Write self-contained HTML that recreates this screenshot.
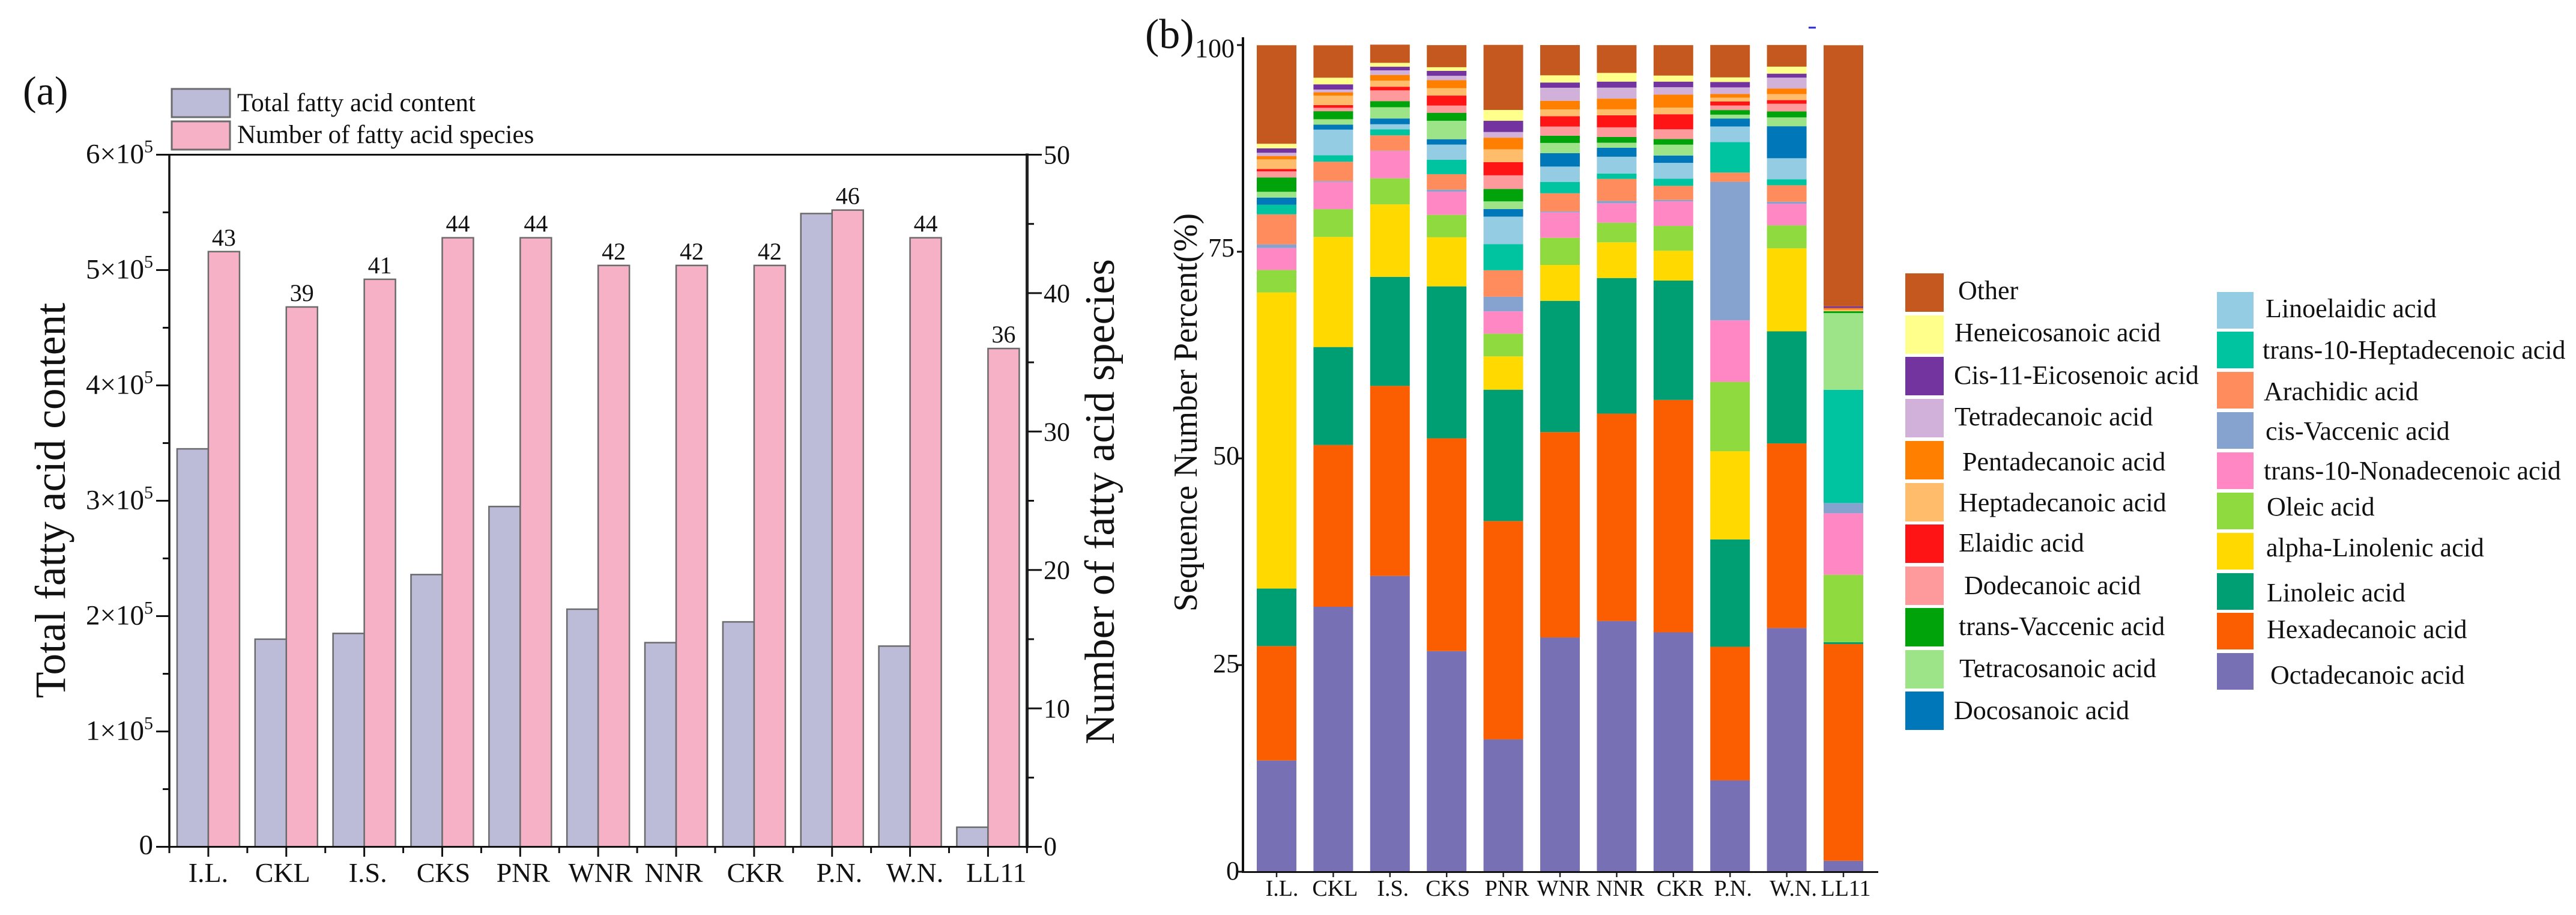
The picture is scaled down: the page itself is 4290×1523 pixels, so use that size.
<!DOCTYPE html>
<html lang="en">
<head>
<meta charset="utf-8">
<title>Fatty acid content and composition</title>
<style>
html,body{margin:0;padding:0;background:#fff;width:4290px;height:1523px;overflow:hidden}
svg{display:block}
text{font-family:"Liberation Serif",serif;fill:#111}
</style>
</head>
<body>
<svg id="figure" xmlns="http://www.w3.org/2000/svg" width="4290" height="1523" viewBox="0 0 4290 1523">
  <rect x="0" y="0" width="4290" height="1523" fill="#ffffff"/>

  <g id="panelA">
    <text x="38" y="174" font-size="68">(a)</text>
    <rect x="286" y="148" width="97" height="47" fill="#bcbcd9" stroke="#6b6b6b" stroke-width="3"/>
    <text x="395" y="185" font-size="43">Total fatty acid content</text>
    <rect x="286" y="202" width="97" height="47" fill="#f6b1c6" stroke="#6b6b6b" stroke-width="3"/>
    <text x="395" y="238" font-size="43">Number of fatty acid species</text>
    <text transform="translate(108,1162) rotate(-90)" font-size="72" textLength="658" lengthAdjust="spacingAndGlyphs">Total fatty acid content</text>
    <text transform="translate(1855,1239) rotate(-90)" font-size="70" textLength="808" lengthAdjust="spacingAndGlyphs">Number of fatty acid species</text>
  </g>

  <g id="panelB">
    <text x="1907" y="80" font-size="70">(b)</text>
    <text transform="translate(1993,1018) rotate(-90)" font-size="56" textLength="663" lengthAdjust="spacingAndGlyphs">Sequence Number Percent(%)</text>
    <rect x="3012" y="44.5" width="12" height="3" fill="#2a2ad0"/>
  </g>

  <g id="legendB" font-size="44">
    <rect x="3173" y="455" width="64" height="64" fill="#c4581e"/>
    <text x="3261" y="498">Other</text>
    <rect x="3173" y="525" width="64" height="64" fill="#ffff8c"/>
    <text x="3255" y="568">Heneicosanoic acid</text>
    <rect x="3173" y="594" width="64" height="64" fill="#7434a0"/>
    <text x="3254" y="639">Cis-11-Eicosenoic acid</text>
    <rect x="3173" y="664" width="64" height="64" fill="#d1b1d9"/>
    <text x="3255" y="708">Tetradecanoic acid</text>
    <rect x="3173" y="734" width="64" height="64" fill="#ff8000"/>
    <text x="3268" y="783">Pentadecanoic acid</text>
    <rect x="3173" y="804" width="64" height="64" fill="#ffbd6b"/>
    <text x="3262" y="851">Heptadecanoic acid</text>
    <rect x="3173" y="873" width="64" height="64" fill="#ff1416"/>
    <text x="3262" y="918">Elaidic acid</text>
    <rect x="3173" y="943" width="64" height="64" fill="#ff9a9c"/>
    <text x="3271" y="989">Dodecanoic acid</text>
    <rect x="3173" y="1012" width="64" height="64" fill="#00a30a"/>
    <text x="3262" y="1057">trans-Vaccenic acid</text>
    <rect x="3173" y="1082" width="64" height="64" fill="#9de388"/>
    <text x="3263" y="1127">Tetracosanoic acid</text>
    <rect x="3173" y="1151" width="64" height="64" fill="#0077b8"/>
    <text x="3254" y="1197">Docosanoic acid</text>

    <rect x="3692" y="486" width="61" height="61" fill="#93cce3"/>
    <text x="3773" y="528">Linoelaidic acid</text>
    <rect x="3692" y="552" width="61" height="61" fill="#00c3a0"/>
    <text x="3768" y="597">trans-10-Heptadecenoic acid</text>
    <rect x="3692" y="619" width="61" height="61" fill="#ff8c5c"/>
    <text x="3770" y="666">Arachidic acid</text>
    <rect x="3692" y="686" width="61" height="61" fill="#86a3cf"/>
    <text x="3773" y="732">cis-Vaccenic acid</text>
    <rect x="3692" y="753" width="61" height="61" fill="#ff88c4"/>
    <text x="3770" y="798">trans-10-Nonadecenoic acid</text>
    <rect x="3692" y="820" width="61" height="61" fill="#8fdb3f"/>
    <text x="3775" y="858">Oleic acid</text>
    <rect x="3692" y="887" width="61" height="61" fill="#ffd900"/>
    <text x="3774" y="926">alpha-Linolenic acid</text>
    <rect x="3692" y="954" width="61" height="61" fill="#009e73"/>
    <text x="3775" y="1001">Linoleic acid</text>
    <rect x="3692" y="1020" width="61" height="61" fill="#fb5e00"/>
    <text x="3775" y="1062">Hexadecanoic acid</text>
    <rect x="3692" y="1087" width="61" height="61" fill="#7870b4"/>
    <text x="3781" y="1138">Octadecanoic acid</text>
  </g>
</svg>

<script>
/* ---------- shared data ---------- */
const categories = ['I.L.','CKL','I.S.','CKS','PNR','WNR','NNR','CKR','P.N.','W.N.','LL11'];

/* ---------- panel (a) data ---------- */
const totalContent = [345000,180000,185000,236000,295000,206000,177000,195000,549000,174000,17000];
const speciesCount = [43,39,41,44,44,42,42,42,46,44,36];
const contentTicks = [0,100000,200000,300000,400000,500000,600000];
const speciesTicks = [0,10,20,30,40,50];

/* ---------- panel (b) data: percent per category ---------- */
const octadecanoic   = [13.46,32.05,35.78,26.69,16.02,28.34,30.33,28.96,11.05,29.48,1.32];
const hexadecanoic   = [13.84,19.57,22.99,25.74,26.40,24.84,25.08,28.11,16.16,22.33,26.22];
const linoleic       = [6.96,11.85,13.19,18.38,15.89,15.88,16.41,14.44,12.99,13.56,0.23];
const alphaLinolenic = [35.81,13.32,8.77,5.94,4.03,4.34,4.32,3.61,10.67,10.04,0];
const oleic          = [2.72,3.36,3.15,2.71,2.75,3.29,2.37,3.00,8.39,2.78,8.15];
const nonadecenoic   = [2.66,3.29,3.30,2.81,2.70,3.08,2.35,2.98,7.44,2.62,7.44];
const cisVaccenic    = [0.44,0.12,0.04,0.24,1.77,0.12,0.29,0.17,16.76,0.24,1.24];
const arachidic      = [3.63,2.33,1.86,1.87,3.20,2.18,2.66,1.70,1.12,1.99,0];
const heptadecenoic  = [1.16,0.78,0.73,1.74,3.15,1.38,0.65,0.87,3.68,0.73,13.70];
const linoelaidic    = [0,3.10,0.61,1.84,3.34,1.85,2.03,1.91,1.89,2.54,0];
const docosanoic     = [0.87,0.61,0.70,0.65,0.92,1.62,1.09,0.89,0.97,3.87,0];
const tetracosanoic  = [0.70,0.65,1.36,2.23,0.92,1.24,0.61,1.31,0.46,1.07,9.28];
const transVaccenic  = [1.74,0.97,0.73,0.97,1.50,0.87,0.70,0.68,0.56,0.73,0.22];
const dodecanoic     = [0.73,0.41,1.31,0.87,1.65,1.11,1.16,1.18,0.55,0.92,0];
const elaidic        = [0.29,0.33,0.44,1.21,1.60,1.26,1.45,1.82,0.49,0.44,0];
const heptadecanoic  = [1.16,1.14,0.73,0.89,1.55,0.82,0.73,0.80,0.46,0.73,0.18];
const pentadecanoic  = [0.41,0.41,0.70,0.97,1.41,1.04,1.29,1.58,0.44,0.68,0.21];
const tetradecanoic  = [0.39,0.33,0.55,0.53,0.68,1.58,1.33,0.89,0.80,1.31,0];
const cisEicosenoic  = [0.53,0.63,0.44,0.60,1.36,0.63,0.73,0.68,0.65,0.48,0.21];
const heneicosanoic  = [0.56,0.80,0.47,0.44,1.31,0.87,1.05,0.73,0.56,0.85,0];
const otherAcids     = [11.92,3.92,2.20,2.67,7.87,3.66,3.36,3.68,3.92,2.62,31.58];
const percentTicks = [0,25,50,75,100];

const seriesStack = [octadecanoic,hexadecanoic,linoleic,alphaLinolenic,oleic,nonadecenoic,cisVaccenic,arachidic,heptadecenoic,linoelaidic,docosanoic,tetracosanoic,transVaccenic,dodecanoic,elaidic,heptadecanoic,pentadecanoic,tetradecanoic,cisEicosenoic,heneicosanoic,otherAcids];
const seriesKeys = ['octadecanoic','hexadecanoic','linoleic','alpha-linolenic','oleic','nonadecenoic','cis-vaccenic','arachidic','heptadecenoic','linoelaidic','docosanoic','tetracosanoic','trans-vaccenic','dodecanoic','elaidic','heptadecanoic','pentadecanoic','tetradecanoic','cis-eicosenoic','heneicosanoic','other'];
const seriesColors = ['#7870b4','#fb5e00','#009e73','#ffd900','#8fdb3f','#ff88c4','#86a3cf','#ff8c5c','#00c3a0','#93cce3','#0077b8','#9de388','#00a30a','#ff9a9c','#ff1416','#ffbd6b','#ff8000','#d1b1d9','#7434a0','#ffff8c','#c4581e'];

/* ---------- drawing ---------- */
const SVGNS = 'http://www.w3.org/2000/svg';
function make(parent, tag, props, content) {
  const el = document.createElementNS(SVGNS, tag);
  for (const k in props) el.setAttribute(k, props[k]);
  if (content !== undefined) el.textContent = content;
  parent.appendChild(el);
  return el;
}

/* panel (a) axes */
const aLeft = 282, aRight = 1710.5, aBottom = 1409.5, aTop = 257.5, aBand = 129.85, aBarW = 52;
const xA = i => aLeft + aBand * (i + 0.5);
const yContent = v => aBottom - (v / 600000) * (aBottom - aTop);
const ySpecies = v => aBottom - (v / 50) * (aBottom - aTop);
const labelNudgeA = [0,-6,6,2,5,4,-4,2,12,8,14];

const panelA = document.getElementById('panelA');

categories.forEach((cat, i) => {
  const c = xA(i);
  const h1 = aBottom - yContent(totalContent[i]);
  const barContent = make(panelA, 'rect', {x:c-aBarW, y:yContent(totalContent[i]), width:aBarW, height:h1, fill:'#bcbcd9', stroke:'#6b6b6b', 'stroke-width':2.5});
  
  
  const h2 = aBottom - ySpecies(speciesCount[i]);
  const barSpecies = make(panelA, 'rect', {x:c, y:ySpecies(speciesCount[i]), width:aBarW, height:h2, fill:'#f6b1c6', stroke:'#6b6b6b', 'stroke-width':2.5});
  
  
  const valueLabel = make(panelA, 'text', {x:c+aBarW/2, y:ySpecies(speciesCount[i])-10, 'font-size':40, 'text-anchor':'middle'}, String(speciesCount[i]));
  
  
  const catLabel = make(panelA, 'text', {x:c+labelNudgeA[i], y:1468, 'font-size':46, 'text-anchor':'middle'}, cat);
  
  
  const majorTick = make(panelA, 'line', {x1:c, x2:c, y1:aBottom, y2:1426, stroke:'#111', 'stroke-width':3});
  
  
});
for (let i = 0; i <= categories.length; i++) {
  const x = aLeft + aBand * i;
  const minorTick = make(panelA, 'line', {x1:x, x2:x, y1:aBottom, y2:1420, stroke:'#111', 'stroke-width':3});
  
  
}

const axisLeftA = make(panelA, 'line', {x1:aLeft, x2:aLeft, y1:aTop, y2:aBottom+2, stroke:'#111', 'stroke-width':3.5});


const axisRightA = make(panelA, 'line', {x1:aRight, x2:aRight, y1:aTop-2, y2:aBottom+2, stroke:'#222', 'stroke-width':5});


const axisTopA = make(panelA, 'line', {x1:260, x2:1735, y1:aTop, y2:aTop, stroke:'#111', 'stroke-width':3});


const axisBottomA = make(panelA, 'line', {x1:260, x2:1735, y1:aBottom, y2:aBottom, stroke:'#111', 'stroke-width':3});



contentTicks.forEach((v, i) => {
  const y = yContent(v);
  const tick = make(panelA, 'line', {x1:260, x2:aLeft, y1:y, y2:y, stroke:'#111', 'stroke-width':3});
  
  
  const label = make(panelA, 'text', {x:255, y:y+(v === 0 ? 12 : 14), 'font-size':47, 'text-anchor':'end'});
  
  
  if (v === 0) {
    label.textContent = '0';
  } else {
    make(label, 'tspan', {}, (v / 100000) + '\u00d710');
    make(label, 'tspan', {dy:-18, 'font-size':30}, '5');
  }
  if (i < contentTicks.length - 1) {
    const ym = yContent((v + contentTicks[i + 1]) / 2);
    const minor = make(panelA, 'line', {x1:271, x2:aLeft, y1:ym, y2:ym, stroke:'#111', 'stroke-width':3});
    
    
  }
});
speciesTicks.forEach((v, i) => {
  const y = ySpecies(v);
  const tick = make(panelA, 'line', {x1:aRight, x2:1735, y1:y, y2:y, stroke:'#111', 'stroke-width':3});
  
  
  const label = make(panelA, 'text', {x:1738, y:y+(i === 0 ? 14 : 15), 'font-size':44}, String(v));
  
  
  if (i < speciesTicks.length - 1) {
    const ym = ySpecies((v + speciesTicks[i + 1]) / 2);
    const minor = make(panelA, 'line', {x1:aRight, x2:1722, y1:ym, y2:ym, stroke:'#111', 'stroke-width':3});
    
    
  }
});

/* panel (b) axes */
const bLeft = 2070, bBottom = 1451, bTop = 75, bFirst = 2126, bStep = 94.4, bBarW = 66;
const xB = i => bFirst + bStep * i;
const yB = v => bBottom - (v / 100) * (bBottom - bTop);
const labelNudgeB = [9,3,5,2,6,6,6,11,5,11,4];
const tickLabelNudgeB = [13,12,10,8,20];

const panelB = document.getElementById('panelB');

categories.forEach((cat, i) => {
  let cumulative = 0;
  seriesStack.forEach((series, s) => {
    const v = series[i];
    if (v > 0) {
      const seg = make(panelB, 'rect', {x:xB(i)-bBarW/2, y:yB(cumulative+v), width:bBarW, height:yB(cumulative)-yB(cumulative+v), fill:seriesColors[s]});
      
      
    }
    cumulative += v;
  });
  const tick = make(panelB, 'line', {x1:xB(i), x2:xB(i), y1:bBottom, y2:bBottom+9, stroke:'#222', 'stroke-width':2.5});
  
  
  const label = make(panelB, 'text', {x:xB(i)+labelNudgeB[i], y:1491, 'font-size':38, 'text-anchor':'middle'}, cat);
  
  
});

const axisLeftB = make(panelB, 'line', {x1:bLeft, x2:bLeft, y1:62, y2:bBottom+2, stroke:'#111', 'stroke-width':4});


const axisBottomB = make(panelB, 'line', {x1:2068, x2:3128, y1:bBottom+0.5, y2:bBottom+0.5, stroke:'#111', 'stroke-width':3});



percentTicks.forEach((v, i) => {
  const y = yB(v);
  const tick = make(panelB, 'line', {x1:2060, x2:bLeft, y1:y, y2:y, stroke:'#111', 'stroke-width':3});
  
  
  const label = make(panelB, 'text', {x:(v >= 75 ? 2056 : 2064), y:y+tickLabelNudgeB[i], 'font-size':44, 'text-anchor':'end'}, String(v));
  
  
});
</script>
</body>
</html>
